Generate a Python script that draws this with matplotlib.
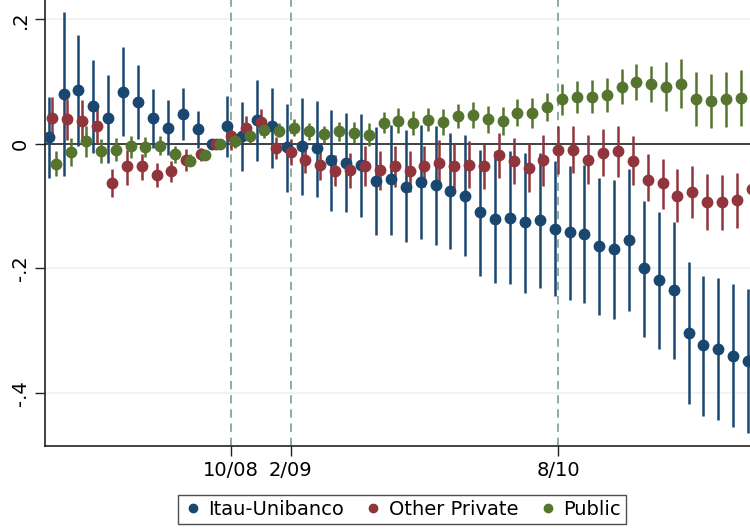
import numpy as np
import matplotlib
matplotlib.use("Agg")
import matplotlib.pyplot as plt

# months relative to 10/08 (-12 = 10/07 ... 35 = 9/11)
months = np.arange(-12, 36)
tick_pos = [0, 4, 22]
tick_labels = ["10/08", "2/09", "8/10"]

itau = [0.011, 0.080, 0.087, 0.061, 0.041, 0.084, 0.067, 0.041, 0.026, 0.048, 0.024, 0.0,
        0.028, 0.012, 0.039, 0.028, -0.005, -0.003, -0.007, -0.026, -0.030, -0.034, -0.059, -0.057,
        -0.069, -0.061, -0.066, -0.075, -0.083, -0.110, -0.121, -0.119, -0.126, -0.122, -0.136, -0.142,
        -0.144, -0.164, -0.169, -0.154, -0.200, -0.218, -0.235, -0.303, -0.323, -0.329, -0.340, -0.348]
itau_hi = [0.075, 0.212, 0.175, 0.135, 0.111, 0.155, 0.126, 0.088, 0.070, 0.089, 0.053, 0.0,
           0.077, 0.067, 0.103, 0.089, 0.064, 0.074, 0.069, 0.055, 0.049, 0.048, 0.027, 0.031,
           0.022, 0.030, 0.029, 0.018, 0.014, -0.010, -0.012, -0.012, -0.014, -0.014, -0.028, -0.035,
           -0.034, -0.054, -0.058, -0.040, -0.091, -0.110, -0.126, -0.189, -0.212, -0.215, -0.225, -0.233]
itau_lo = [-0.055, -0.052, -0.003, -0.015, -0.031, 0.012, 0.008, -0.007, -0.018, 0.006, -0.007, 0.0,
           -0.021, -0.043, -0.027, -0.039, -0.078, -0.082, -0.085, -0.107, -0.110, -0.118, -0.146, -0.146,
           -0.158, -0.152, -0.162, -0.169, -0.180, -0.212, -0.223, -0.225, -0.240, -0.231, -0.244, -0.250,
           -0.256, -0.274, -0.281, -0.269, -0.310, -0.329, -0.346, -0.417, -0.437, -0.443, -0.455, -0.464]

priv = [0.041, 0.040, 0.037, 0.029, -0.063, -0.036, -0.036, -0.050, -0.044, -0.026, -0.017, 0.0,
        0.013, 0.025, 0.035, -0.007, -0.013, -0.026, -0.034, -0.043, -0.042, -0.036, -0.042, -0.035,
        -0.044, -0.036, -0.030, -0.036, -0.034, -0.036, -0.018, -0.028, -0.038, -0.026, -0.010, -0.010,
        -0.026, -0.014, -0.012, -0.027, -0.058, -0.063, -0.083, -0.077, -0.093, -0.094, -0.090, -0.072]
priv_hi = [0.075, 0.072, 0.071, 0.058, -0.040, -0.010, -0.016, -0.031, -0.028, -0.008, -0.007, 0.0,
           0.032, 0.044, 0.056, 0.011, 0.008, -0.004, -0.012, -0.018, -0.014, -0.004, -0.011, -0.003,
           -0.011, -0.003, 0.006, 0.000, 0.004, 0.000, 0.017, 0.010, 0.001, 0.014, 0.029, 0.028,
           0.014, 0.024, 0.028, 0.013, -0.016, -0.024, -0.041, -0.035, -0.049, -0.050, -0.047, -0.030]
priv_lo = [0.006, 0.006, 0.004, 0.000, -0.086, -0.066, -0.058, -0.069, -0.061, -0.043, -0.028, 0.0,
           -0.009, 0.006, 0.014, -0.025, -0.034, -0.047, -0.058, -0.067, -0.070, -0.067, -0.074, -0.069,
           -0.078, -0.069, -0.065, -0.071, -0.071, -0.073, -0.054, -0.065, -0.078, -0.067, -0.048, -0.047,
           -0.065, -0.052, -0.053, -0.066, -0.091, -0.105, -0.126, -0.119, -0.138, -0.139, -0.135, -0.114]

pub = [-0.032, -0.013, 0.004, -0.011, -0.009, -0.004, -0.005, -0.003, -0.016, -0.027, -0.018, 0.0,
       0.004, 0.013, 0.022, 0.021, 0.025, 0.020, 0.016, 0.020, 0.017, 0.015, 0.034, 0.037,
       0.034, 0.039, 0.035, 0.045, 0.047, 0.040, 0.037, 0.050, 0.050, 0.059, 0.072, 0.076,
       0.076, 0.079, 0.092, 0.100, 0.096, 0.092, 0.096, 0.072, 0.069, 0.072, 0.074, np.nan]
pub_hi = [-0.012, 0.009, 0.029, 0.008, 0.009, 0.013, 0.011, 0.013, -0.003, -0.016, -0.010, 0.0,
          0.014, 0.025, 0.036, 0.033, 0.040, 0.033, 0.029, 0.035, 0.035, 0.033, 0.051, 0.057,
          0.053, 0.058, 0.056, 0.064, 0.067, 0.061, 0.059, 0.072, 0.073, 0.082, 0.096, 0.101,
          0.103, 0.105, 0.120, 0.128, 0.125, 0.131, 0.136, 0.115, 0.112, 0.116, 0.118, np.nan]
pub_lo = [-0.052, -0.035, -0.021, -0.030, -0.027, -0.022, -0.021, -0.018, -0.030, -0.036, -0.026, 0.0,
          -0.007, 0.002, 0.009, 0.011, 0.012, 0.006, 0.001, 0.005, 0.001, -0.003, 0.017, 0.017,
          0.014, 0.020, 0.014, 0.025, 0.025, 0.018, 0.014, 0.029, 0.026, 0.036, 0.047, 0.050,
          0.050, 0.052, 0.064, 0.071, 0.068, 0.053, 0.057, 0.029, 0.025, 0.027, 0.029, np.nan]

series = [
    ("Itau-Unibanco", itau, itau_lo, itau_hi, -0.25, "#1a476f"),
    ("Other Private", priv, priv_lo, priv_hi, 0.0, "#90353b"),
    ("Public", pub, pub_lo, pub_hi, 0.25, "#55752f"),
]

fig = plt.figure(figsize=(7.5, 5.31), dpi=100)
ax = fig.add_axes([0.06, 0.16, 0.94, 0.84])

ax.set_xlim(-12.5, 34.88)
ax.set_ylim(-0.485, 0.231)

for y in [0.2, -0.2, -0.4]:
    ax.axhline(y, color="#eaf2f3", lw=1.2, zorder=0)
ax.axhline(0, color="#333333", lw=1.3, zorder=1)
for x in tick_pos:
    ax.axvline(x, color="#7b9e92", lw=1.2, ls=(0, (5, 3.5)), zorder=1)

for name, val, lo, hi, off, col in series:
    val = np.array(val, dtype=float)
    err = [val - np.array(lo), np.array(hi) - val]
    ax.errorbar(months + off, val, yerr=err, fmt="o", color=col, ms=7.5,
                elinewidth=1.8, capsize=0, label=name, zorder=3, clip_on=True)

ax.set_xticks(tick_pos)
ax.set_xticklabels(tick_labels, fontsize=14)
ax.set_yticks([0.2, 0, -0.2, -0.4])
ax.set_yticklabels([".2", "0", "-.2", "-.4"], fontsize=14, rotation=90, va="center")
ax.tick_params(axis="both", length=7, width=1, color="#222222", pad=4)

for s in ["top", "right"]:
    ax.spines[s].set_visible(False)
for s in ["left", "bottom"]:
    ax.spines[s].set_color("#222222")
    ax.spines[s].set_linewidth(1.2)

handles = [plt.Line2D([], [], marker="o", ls="none", color=c, ms=6) for _, _, _, _, _, c in series]
leg = fig.legend(handles, [s[0] for s in series], loc="center", bbox_to_anchor=(0.536, 0.041),
                 ncol=3, fontsize=14, frameon=True, fancybox=False, handletextpad=0.3,
                 columnspacing=1.0, borderpad=0.25, handlelength=1.0)
leg.get_frame().set_edgecolor("#222222")
leg.get_frame().set_linewidth(1.0)

fig.savefig("out.png", dpi=100)
